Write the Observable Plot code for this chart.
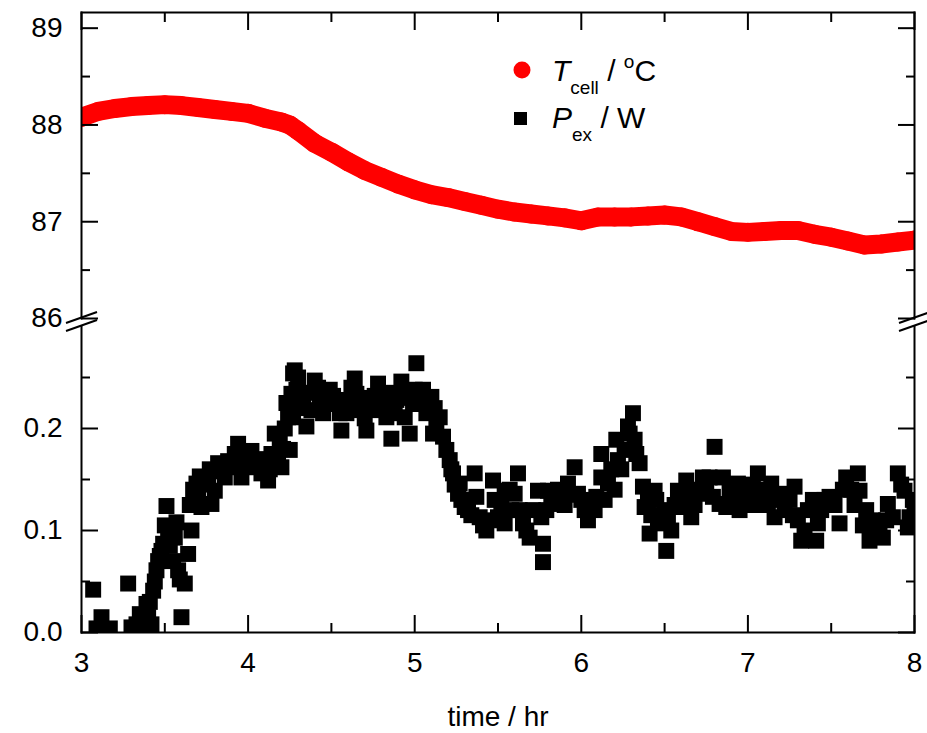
<!DOCTYPE html>
<html><head><meta charset="utf-8">
<script src="https://cdn.jsdelivr.net/npm/d3@7"></script>
<script src="https://cdn.jsdelivr.net/npm/@observablehq/plot@0.6"></script>
<style>
body{margin:0;background:#fff;}
#chart{position:relative;width:927px;}
#chart svg{display:block;}
</style></head><body><div id="chart"></div>
<script>
// ---- data ----
const tTime = [3.0,3.1,3.2,3.3,3.4,3.5,3.6,3.7,3.8,3.9,4.0,4.1,4.2,4.25,4.3,4.4,4.5,4.6,4.7,4.8,4.9,5.0,5.1,5.2,5.3,5.4,5.5,5.6,5.7,5.8,5.9,6.0,6.1,6.2,6.3,6.4,6.5,6.6,6.7,6.8,6.9,7.0,7.1,7.2,7.3,7.4,7.5,7.6,7.7,7.8,7.9,8.0];
const tCell = [88.08,88.14,88.17,88.19,88.20,88.21,88.20,88.18,88.16,88.14,88.12,88.07,88.03,88.00,87.94,87.81,87.72,87.62,87.53,87.46,87.39,87.33,87.28,87.25,87.21,87.17,87.13,87.10,87.08,87.06,87.04,87.01,87.05,87.05,87.05,87.06,87.07,87.05,87.00,86.95,86.90,86.89,86.90,86.91,86.91,86.87,86.84,86.80,86.76,86.77,86.79,86.81];

const pTime = [3.07,3.09,3.12,3.17,3.28,3.30,3.35,3.39,3.40,3.43,3.45,3.48,3.49,3.51,3.52,3.56,3.58,3.60,3.62,3.64,3.66,3.68,3.69,3.72,3.74,3.78,3.80,3.82,3.86,3.90,3.94,3.96,4.00,4.04,4.08,4.10,4.12,4.16,4.18,4.20,4.21,4.24,4.25,4.26,4.27,4.27,4.28,4.29,4.33,4.35,4.40,4.43,4.45,4.49,4.53,4.56,4.59,4.64,4.65,4.68,4.71,4.75,4.78,4.80,4.83,4.86,4.89,4.92,4.94,4.97,4.99,5.01,5.05,5.07,5.10,5.11,5.15,5.17,5.19,5.21,5.23,5.26,5.27,5.30,5.36,5.37,5.39,5.43,5.47,5.50,5.54,5.54,5.60,5.62,5.65,5.69,5.74,5.76,5.77,5.77,5.80,5.84,5.88,5.92,5.96,5.98,6.02,6.06,6.09,6.12,6.12,6.16,6.21,6.22,6.26,6.28,6.31,6.32,6.35,6.37,6.38,6.41,6.44,6.46,6.50,6.51,6.54,6.58,6.60,6.63,6.66,6.70,6.73,6.77,6.79,6.80,6.83,6.85,6.87,6.94,6.95,7.01,7.06,7.09,7.14,7.16,7.20,7.28,7.30,7.32,7.39,7.41,7.42,7.49,7.55,7.59,7.66,7.67,7.71,7.73,7.77,7.81,7.84,7.87,7.90,7.94,7.96,7.97,8.00,
  3.33,3.37,3.41,3.42,3.44,3.46,3.47,3.50,3.53,3.55,3.57,3.59,3.65,3.67,3.70,3.71,3.76,3.77,3.84,3.88,3.92,3.98,4.02,4.06,4.14,4.13,4.22,4.19,4.23,
  4.30,4.31,4.37,4.38,4.42,4.47,4.51,4.55,4.57,4.61,4.62,4.67,4.70,4.73,4.76,4.82,4.85,4.88,4.91,4.96,5.00,5.03,5.08,5.12,5.13,
  5.22,5.24,5.28,5.32,5.34,5.41,5.45,5.48,5.52,5.57,5.58,5.63,5.67,5.71,5.79,5.82,5.86,5.90,5.94,6.00,6.04,6.08,6.14,
  6.18,6.20,6.24,6.29,6.33,6.40,6.42,6.45,6.48,6.52,6.56,6.62,6.65,6.68,6.72,6.75,
  6.89,6.91,6.97,6.99,7.03,7.05,7.11,7.12,7.18,7.22,7.25,7.27,7.34,7.36,7.44,7.46,7.52,7.57,7.62,7.64,7.69,7.75,7.79,7.83,7.92,7.99];
const pPower = [0.042,0.004,0.015,0.004,0.048,0.005,0.018,0.028,0.015,0.041,0.061,0.080,0.087,0.124,0.100,0.093,0.061,0.015,0.048,0.077,0.100,0.136,0.146,0.123,0.152,0.126,0.139,0.166,0.152,0.162,0.185,0.152,0.172,0.162,0.156,0.166,0.149,0.195,0.169,0.162,0.180,0.211,0.179,0.234,0.254,0.211,0.257,0.238,0.228,0.202,0.247,0.228,0.215,0.238,0.224,0.198,0.215,0.249,0.234,0.218,0.198,0.218,0.244,0.228,0.211,0.190,0.228,0.246,0.211,0.195,0.224,0.264,0.238,0.215,0.231,0.195,0.211,0.192,0.179,0.169,0.156,0.136,0.146,0.123,0.156,0.133,0.113,0.100,0.149,0.113,0.139,0.107,0.136,0.156,0.107,0.093,0.139,0.113,0.087,0.069,0.139,0.126,0.133,0.146,0.162,0.136,0.120,0.123,0.133,0.175,0.152,0.146,0.189,0.169,0.179,0.202,0.215,0.189,0.166,0.143,0.123,0.097,0.139,0.107,0.120,0.080,0.100,0.139,0.123,0.149,0.113,0.136,0.152,0.152,0.133,0.182,0.126,0.152,0.123,0.146,0.120,0.133,0.156,0.133,0.146,0.113,0.136,0.143,0.110,0.090,0.130,0.090,0.107,0.133,0.107,0.152,0.156,0.139,0.120,0.090,0.103,0.093,0.126,0.113,0.156,0.139,0.103,0.113,0.118,
  0.008,0.005,0.030,0.008,0.050,0.070,0.075,0.105,0.085,0.070,0.108,0.052,0.125,0.140,0.130,0.153,0.145,0.160,0.158,0.168,0.175,0.165,0.178,0.170,0.175,0.160,0.200,0.185,0.225,
  0.250,0.220,0.235,0.218,0.240,0.225,0.232,0.215,0.228,0.225,0.240,0.230,0.210,0.225,0.232,0.222,0.235,0.215,0.232,0.230,0.238,0.225,0.225,0.220,0.205,
  0.160,0.145,0.130,0.120,0.115,0.105,0.110,0.130,0.125,0.140,0.120,0.120,0.100,0.120,0.120,0.130,0.140,0.125,0.135,0.130,0.110,0.120,0.130,
  0.160,0.140,0.160,0.195,0.175,0.130,0.115,0.130,0.110,0.115,0.125,0.135,0.130,0.125,0.140,0.145,
  0.140,0.130,0.140,0.125,0.145,0.125,0.140,0.125,0.130,0.120,0.130,0.115,0.100,0.120,0.120,0.130,0.125,0.140,0.140,0.125,0.105,0.110,0.100,0.110,0.145,0.130];

const xTicks = [3,4,5,6,7,8];
const xMinor = [3.5,4.5,5.5,6.5,7.5];
const tTicks = [86,87,88,89];
const tMinor = [86.5,87.5,88.5];
const pTicks = [0.0,0.1,0.2];
const pMinor = [0.05,0.15,0.25];
const xLabel = "time / hr";
const xDomain = [3,8], tDomain = [86,89.162], pDomain = [0,0.3];

// ---- layout ----
const W = 927, ML = 81, MR = 13;
const FONT = "'Liberation Sans', Arial, Helvetica, sans-serif";
const FS = 28, MAJ = 17, MIN = 9, SW = 2;
const blank = () => "";
const style = {fontFamily: FONT, fontSize: FS + "px", color: "black", background: "white", overflow: "visible"};

const Tdata = tTime.map((t, i) => ({t, v: tCell[i]}));
const Pdata = pTime.map((t, i) => ({t, v: pPower[i]}));

function yAxes(major, minor, fmt) {
  return [
    Plot.axisY(major, {anchor: "left", tickSize: -MAJ, strokeWidth: SW, tickFormat: blank, label: null}),
    Plot.axisY(minor, {anchor: "left", tickSize: -MIN, strokeWidth: SW, tickFormat: blank, label: null}),
    Plot.axisY(major, {anchor: "left", tickSize: 0, tickPadding: 19, tickFormat: fmt, fontSize: FS, label: null}),
    Plot.axisY(major, {anchor: "right", tickSize: -MAJ, strokeWidth: SW, tickFormat: blank, label: null}),
    Plot.axisY(minor, {anchor: "right", tickSize: -MIN, strokeWidth: SW, tickFormat: blank, label: null})
  ];
}

const topPlot = Plot.plot({
  width: W, height: 322, marginLeft: ML, marginRight: MR, marginTop: 12, marginBottom: 4,
  x: {domain: xDomain}, y: {domain: tDomain},
  style,
  marks: [
    Plot.line(Tdata, {x: "t", y: "v", stroke: "#ff0000", strokeWidth: 19, strokeLinecap: "round", strokeLinejoin: "round", clip: true}),
    Plot.dot(Tdata, {x: "t", y: "v", r: 9.5, fill: "#ff0000", clip: true}),
    ...yAxes(tTicks, tMinor, d => d),
    Plot.axisX(xTicks, {anchor: "top", tickSize: -MAJ, strokeWidth: SW, tickFormat: blank, label: null}),
    Plot.axisX(xMinor, {anchor: "top", tickSize: -MIN, strokeWidth: SW, tickFormat: blank, label: null}),
    Plot.frame({anchor: "left", strokeWidth: SW}),
    Plot.frame({anchor: "right", strokeWidth: SW}),
    Plot.frame({anchor: "top", strokeWidth: SW})
  ]
});

const botPlot = Plot.plot({
  width: W, height: 411, marginLeft: ML, marginRight: MR, marginTop: 4, marginBottom: 101,
  x: {domain: xDomain}, y: {domain: pDomain},
  style,
  marks: [
    Plot.dot(Pdata, {x: "t", y: "v", symbol: "square", r: 9, fill: "black", clip: true}),
    ...yAxes(pTicks, pMinor, d => d.toFixed(1)),
    Plot.axisX(xTicks, {anchor: "bottom", tickSize: -MAJ, strokeWidth: SW, tickFormat: blank, label: null}),
    Plot.axisX(xMinor, {anchor: "bottom", tickSize: -MIN, strokeWidth: SW, tickFormat: blank, label: null}),
    Plot.axisX(xTicks, {anchor: "bottom", tickSize: 0, tickPadding: 20, tickFormat: d => d, fontSize: FS, label: null}),
    Plot.text([xLabel], {text: d => d, frameAnchor: "bottom", dy: 85, lineAnchor: "middle", fontSize: FS}),
    Plot.frame({anchor: "left", strokeWidth: SW}),
    Plot.frame({anchor: "right", strokeWidth: SW}),
    Plot.frame({anchor: "bottom", strokeWidth: SW})
  ]
});

const chart = document.getElementById("chart");
chart.append(topPlot, botPlot);

// ---- axis break marks ----
function breakMark(plot, yVal) {
  const svg = d3.select(plot);
  const sx = plot.scale("x"), sy = plot.scale("y");
  const y = sy.apply(yVal);
  for (const xv of xDomain) {
    const x = sx.apply(xv);
    svg.append("line")
      .attr("x1", x - 15).attr("y1", y + 5)
      .attr("x2", x + 16).attr("y2", y - 6)
      .attr("stroke", "black").attr("stroke-width", 2);
  }
}
breakMark(topPlot, tDomain[0]);
breakMark(botPlot, pDomain[1]);

// ---- legend ----
const lg = d3.select(topPlot).append("g").attr("font-family", FONT).attr("fill", "black").attr("text-anchor", "start");
lg.append("circle").attr("cx", 522).attr("cy", 70).attr("r", 8.5).attr("fill", "#ff0000");
lg.append("rect").attr("x", 514).attr("y", 112).attr("width", 13).attr("height", 13).attr("fill", "black");
function legendText(y, main, sub) {
  const t = lg.append("text").attr("x", 552).attr("y", y).attr("font-size", 30).attr("text-anchor", "start");
  t.append("tspan").attr("font-style", "italic").text(main);
  t.append("tspan").attr("font-size", 19).attr("dy", 13).text(sub);
  t.append("tspan").attr("dy", -13).text(" / ");
  return t;
}
const t1 = legendText(81, "T", "cell");
t1.append("tspan").attr("font-size", 19).attr("dy", -13).text("o");
t1.append("tspan").attr("dy", 13).text("C");
const t2 = legendText(128, "P", "ex");
t2.append("tspan").text("W");
</script></body></html>
